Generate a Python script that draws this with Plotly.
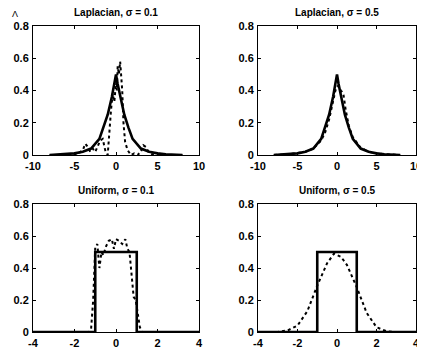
import plotly.graph_objects as go

W, H = 425, 350
OFF = 8  # page body margin offset in the browser

# ---- data ----
lap_x = [-8, -6, -5, -4, -3, -2, -1.5, -1, -0.5, -0.2, 0, 0.2, 0.5, 1, 1.5, 2, 3, 4, 5, 6, 8]
lap_true = [0.0, 0.005, 0.01, 0.02, 0.04, 0.1, 0.17, 0.25, 0.36, 0.44, 0.5, 0.44, 0.36, 0.25, 0.17, 0.1, 0.04, 0.02, 0.01, 0.005, 0.0]

lap01_x = [-8, -5, -4.5, -4.0, -3.7, -3.4, -3.1, -2.8, -2.5, -2.2, -1.9, -1.6, -1.3, -1.0, -0.8, -0.6,
           -0.4, -0.2, 0.0, 0.1, 0.2, 0.35, 0.5, 0.6, 0.75, 0.9, 1.1, 1.4, 1.8, 2.2, 2.6, 3.0, 3.3, 3.6, 3.9, 4.5, 8]
lap01_est = [0.0, 0.0, 0.01, 0.03, 0.07, 0.05, 0.02, 0.04, 0.02, 0.05, 0.09, 0.1, 0.03, 0.0, 0.15, 0.28,
             0.38, 0.33, 0.45, 0.4, 0.55, 0.5, 0.58, 0.52, 0.4, 0.2, 0.08, 0.03, 0.0, 0.01, 0.0, 0.02, 0.06, 0.05, 0.02, 0.0, 0.0]

lap05_x = [-8, -6, -4, -3, -2, -1.5, -1, -0.5, -0.2, 0.1, 0.3, 0.5, 0.8, 1.1, 1.5, 2, 3, 4, 5, 6, 8]
lap05_est = [0.0, 0.005, 0.02, 0.04, 0.09, 0.14, 0.22, 0.33, 0.4, 0.43, 0.41, 0.4, 0.38, 0.28, 0.18, 0.11, 0.045, 0.02, 0.01, 0.005, 0.0]

uni_x = [-4, -1, -1, 1, 1, 4]
uni_true = [0, 0, 0.5, 0.5, 0, 0]

uni01_x = [-4, -1.6, -1.3, -1.2, -1.1, -1.0, -0.9, -0.8, -0.7, -0.6, -0.5, -0.35, -0.2, -0.1, 0.0, 0.15,
           0.3, 0.45, 0.55, 0.65, 0.75, 0.85, 0.95, 1.05, 1.15, 1.25, 4]
uni01_est = [0, 0, 0.0, 0.02, 0.2, 0.53, 0.55, 0.4, 0.5, 0.48, 0.53, 0.57, 0.58, 0.52, 0.58, 0.57,
             0.55, 0.58, 0.52, 0.5, 0.35, 0.22, 0.2, 0.1, 0.03, 0.0, 0]

uni05_x = [-4, -3, -2.5, -2, -1.5, -1, -0.5, -0.15, 0.2, 0.5, 1, 1.5, 2, 2.5, 3, 4]
uni05_est = [0, 0, 0.01, 0.04, 0.13, 0.29, 0.43, 0.49, 0.47, 0.42, 0.28, 0.12, 0.03, 0.005, 0, 0]

titles = ["Laplacian, σ = 0.1", "Laplacian, σ = 0.5", "Uniform, σ = 0.1", "Uniform, σ = 0.5"]
y_ticks = [0, 0.2, 0.4, 0.6, 0.8]
y_ticklabels = ["0", "0.2", "0.4", "0.6", "0.8"]
x_ticks_lap = [-10, -5, 0, 5, 10]
x_ticks_uni = [-4, -2, 0, 2, 4]

panels = [
    (lap_x, lap_true, lap01_x, lap01_est, [-10, 10], x_ticks_lap),
    (lap_x, lap_true, lap05_x, lap05_est, [-10, 10], x_ticks_lap),
    (uni_x, uni_true, uni01_x, uni01_est, [-4, 4], x_ticks_uni),
    (uni_x, uni_true, uni05_x, uni05_est, [-4, 4], x_ticks_uni),
]

# pixel layout (screen pixels), shifted by body offset
xpx = [(33 - OFF, 199 - OFF), (258 - OFF, 416 - OFF)]
ypx = [(26 - OFF, 155 - OFF), (204 - OFF, 332 - OFF)]

fig = go.Figure()
font_tick = dict(family="Liberation Sans, Arial, sans-serif", size=11, color="black", weight="bold")

for i, (tx, ty, ex, ey, xr, xt) in enumerate(panels):
    r, c = divmod(i, 2)
    n = i + 1
    xa = "x" if n == 1 else f"x{n}"
    ya = "y" if n == 1 else f"y{n}"
    fig.add_trace(go.Scatter(x=ex, y=ey, mode="lines", xaxis=xa, yaxis=ya,
                             line=dict(color="black", width=2, dash="dot"), showlegend=False))
    fig.add_trace(go.Scatter(x=tx, y=ty, mode="lines", xaxis=xa, yaxis=ya,
                             line=dict(color="black", width=2.6), showlegend=False))
    x0, x1 = xpx[c]
    y0, y1 = ypx[r]
    common = dict(showline=True, linecolor="black", linewidth=1, mirror="ticks",
                  ticks="inside", ticklen=3, tickcolor="black", showgrid=False,
                  zeroline=False, tickfont=font_tick, automargin=False)
    fig.layout[("xaxis" if n == 1 else f"xaxis{n}")] = dict(
        domain=[x0 / W, x1 / W], range=xr, tickvals=xt, ticktext=[str(v) for v in xt],
        anchor=ya, ticklabelstandoff=1, **common)
    fig.layout[("yaxis" if n == 1 else f"yaxis{n}")] = dict(
        domain=[1 - y1 / H, 1 - y0 / H], range=[0, 0.8], tickvals=y_ticks, ticktext=y_ticklabels,
        anchor=xa, ticklabelstandoff=1, **common)
    fig.add_annotation(text=titles[i], x=(x0 + x1) / 2 / W, y=1 - (y0 - 14) / H,
                       xref="paper", yref="paper", showarrow=False, xanchor="center", yanchor="middle",
                       font=dict(family="Liberation Sans, Arial, sans-serif", size=10, color="black", weight="bold"))

fig.add_annotation(text="Λ", x=(15 - OFF) / W, y=1.0, xref="paper", yref="paper",
                   showarrow=False, xanchor="center", yanchor="top", borderpad=0,
                   font=dict(family="Liberation Sans, Arial, sans-serif", size=9, color="black"))

fig.update_layout(width=W, height=H, margin=dict(l=0, r=0, t=0, b=0),
                  plot_bgcolor="white", paper_bgcolor="white")

fig.write_html("out.html")
